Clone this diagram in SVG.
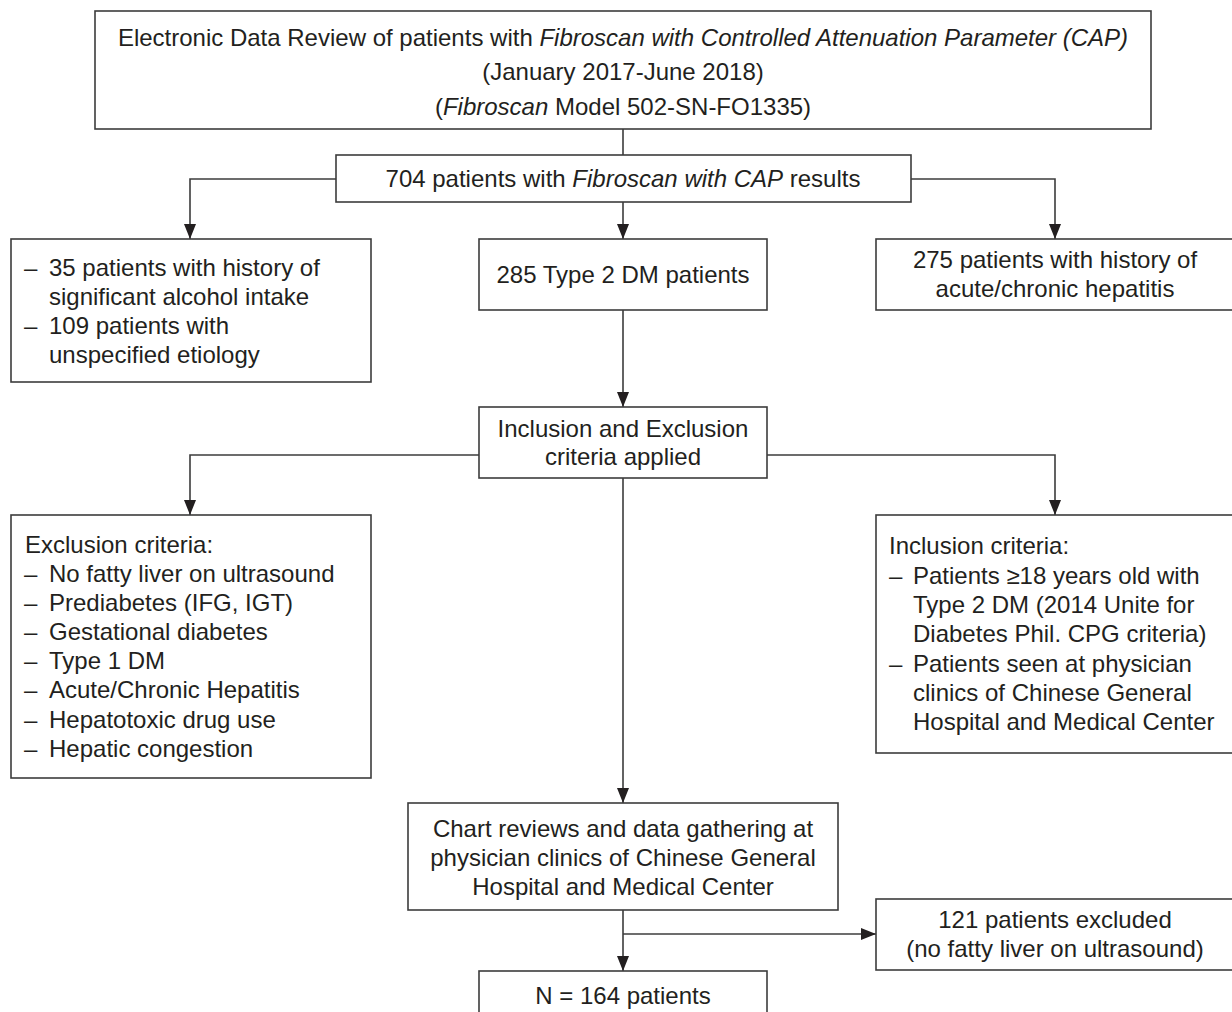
<svg xmlns="http://www.w3.org/2000/svg" width="1232" height="1012" viewBox="0 0 1232 1012">
  <defs>
    <marker id="arrow" markerWidth="15" markerHeight="12" refX="15" refY="6" orient="auto" markerUnits="userSpaceOnUse" viewBox="0 0 15 12">
      <path d="M0,0 L15,6 L0,12 Z" fill="#231f20"/>
    </marker>
    <style>
      .box { fill: #ffffff; stroke: #3c3c3c; stroke-width: 1.6; }
      .conn { fill: none; stroke: #3c3c3c; stroke-width: 1.6; }
      text { font-family: "Liberation Sans", Arial, sans-serif; font-size: 24px; fill: #231f20; }
      .c { text-anchor: middle; }
      .i { font-style: italic; }
    </style>
  </defs>
  <rect width="1232" height="1012" fill="#ffffff"/>

  <g id="connectors">
    <line class="conn" x1="623" y1="129" x2="623" y2="155"/>
    <polyline class="conn" points="336,179 190,179 190,239" marker-end="url(#arrow)"/>
    <line class="conn" x1="623" y1="202" x2="623" y2="239" marker-end="url(#arrow)"/>
    <polyline class="conn" points="911,179 1055,179 1055,239" marker-end="url(#arrow)"/>
    <line class="conn" x1="623" y1="310" x2="623" y2="407" marker-end="url(#arrow)"/>
    <polyline class="conn" points="479,455 190,455 190,515" marker-end="url(#arrow)"/>
    <polyline class="conn" points="767,455 1055,455 1055,515" marker-end="url(#arrow)"/>
    <line class="conn" x1="623" y1="478" x2="623" y2="803" marker-end="url(#arrow)"/>
    <line class="conn" x1="623" y1="910" x2="623" y2="971" marker-end="url(#arrow)"/>
    <line class="conn" x1="623" y1="934" x2="876" y2="934" marker-end="url(#arrow)"/>
  </g>

  <g id="node-review">
    <rect class="box" x="95" y="11" width="1056" height="118"/>
    <text class="c" x="623" y="46">Electronic Data Review of patients with <tspan class="i">Fibroscan with Controlled Attenuation Parameter (CAP)</tspan></text>
    <text class="c" x="623" y="80">(January 2017-June 2018)</text>
    <text class="c" x="623" y="115">(<tspan class="i">Fibroscan</tspan> Model 502-SN-FO1335)</text>
  </g>

  <g id="node-704">
    <rect class="box" x="336" y="155" width="575" height="47"/>
    <text class="c" x="623" y="187">704 patients with <tspan class="i">Fibroscan with CAP</tspan> results</text>
  </g>

  <g id="node-excluded-etiology">
    <rect class="box" x="11" y="239" width="360" height="143"/>
    <text x="24" y="276">–</text><text x="49" y="276">35 patients with history of</text>
    <text x="49" y="305">significant alcohol intake</text>
    <text x="24" y="334">–</text><text x="49" y="334">109 patients with</text>
    <text x="49" y="363">unspecified etiology</text>
  </g>

  <g id="node-285">
    <rect class="box" x="479" y="239" width="288" height="71"/>
    <text class="c" x="623" y="283">285 Type 2 DM patients</text>
  </g>

  <g id="node-hepatitis">
    <rect class="box" x="876" y="239" width="360" height="71"/>
    <text class="c" x="1055" y="268">275 patients with history of</text>
    <text class="c" x="1055" y="297">acute/chronic hepatitis</text>
  </g>

  <g id="node-criteria">
    <rect class="box" x="479" y="407" width="288" height="71"/>
    <text class="c" x="623" y="437">Inclusion and Exclusion</text>
    <text class="c" x="623" y="465">criteria applied</text>
  </g>

  <g id="node-exclusion">
    <rect class="box" x="11" y="515" width="360" height="263"/>
    <text x="25" y="553">Exclusion criteria:</text>
    <text x="24" y="582">–</text><text x="49" y="582">No fatty liver on ultrasound</text>
    <text x="24" y="611">–</text><text x="49" y="611">Prediabetes (IFG, IGT)</text>
    <text x="24" y="640">–</text><text x="49" y="640">Gestational diabetes</text>
    <text x="24" y="669">–</text><text x="49" y="669">Type 1 DM</text>
    <text x="24" y="698">–</text><text x="49" y="698">Acute/Chronic Hepatitis</text>
    <text x="24" y="728">–</text><text x="49" y="728">Hepatotoxic drug use</text>
    <text x="24" y="757">–</text><text x="49" y="757">Hepatic congestion</text>
  </g>

  <g id="node-inclusion">
    <rect class="box" x="876" y="515" width="360" height="238"/>
    <text x="889" y="554">Inclusion criteria:</text>
    <text x="889" y="584">–</text><text x="913" y="584">Patients ≥18 years old with</text>
    <text x="913" y="613">Type 2 DM (2014 Unite for</text>
    <text x="913" y="642">Diabetes Phil. CPG criteria)</text>
    <text x="889" y="672">–</text><text x="913" y="672">Patients seen at physician</text>
    <text x="913" y="701">clinics of Chinese General</text>
    <text x="913" y="730">Hospital and Medical Center</text>
  </g>

  <g id="node-chart">
    <rect class="box" x="408" y="803" width="430" height="107"/>
    <text class="c" x="623" y="837">Chart reviews and data gathering at</text>
    <text class="c" x="623" y="866">physician clinics of Chinese General</text>
    <text class="c" x="623" y="895">Hospital and Medical Center</text>
  </g>

  <g id="node-121">
    <rect class="box" x="876" y="899" width="360" height="71"/>
    <text class="c" x="1055" y="928">121 patients excluded</text>
    <text class="c" x="1055" y="957">(no fatty liver on ultrasound)</text>
  </g>

  <g id="node-n164">
    <rect class="box" x="479" y="971" width="288" height="60"/>
    <text class="c" x="623" y="1004">N = 164 patients</text>
  </g>
</svg>
